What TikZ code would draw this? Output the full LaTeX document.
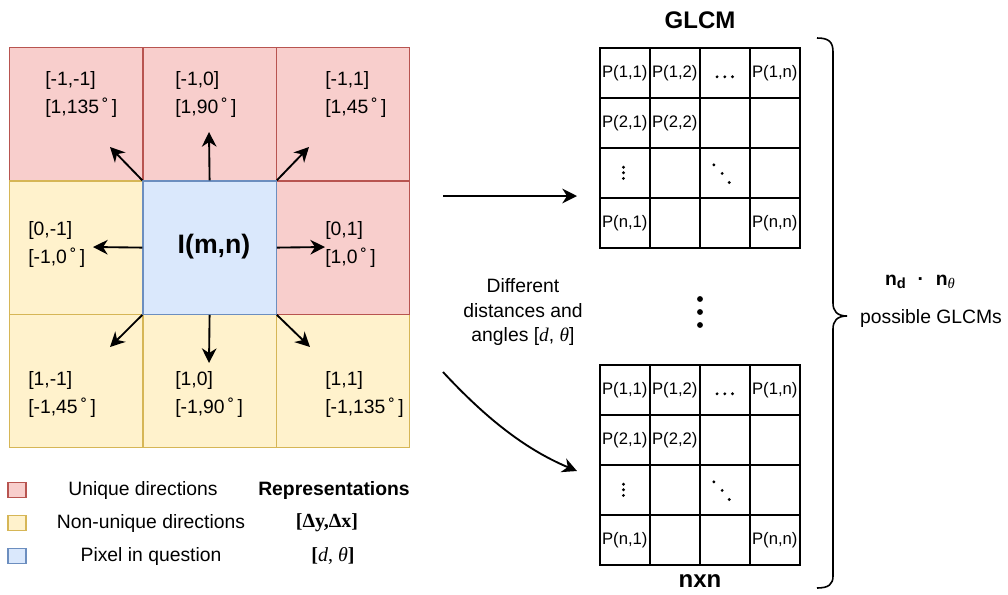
\documentclass[tikz,border=0pt]{standalone}
\usepackage{fontspec}
\setmainfont{Liberation Sans}
\newfontfamily\seriffont{Liberation Serif}
\usetikzlibrary{arrows.meta}
\definecolor{pinkfill}{HTML}{F8CECC}
\definecolor{pinkline}{HTML}{B85450}
\definecolor{yelfill}{HTML}{FFF2CC}
\definecolor{yelline}{HTML}{D6B656}
\definecolor{bluefill}{HTML}{DAE8FC}
\definecolor{blueline}{HTML}{6C8EBF}
\newcommand\dg{\,˚\,}
\newcommand\drawglcm[2]{%
  \foreach \i in {1,...,4}{\foreach \j in {1,...,4}{
    \node[mcell] (#1-\i\j) at ({599+50*(\j-1)},{#2+50*(\i-1)}) {};}}
  \node[mtxt] at (#1-11) {P(1,1)};
  \node[mtxt] at (#1-12) {P(1,2)};
  \node[mtxt] at (#1-14) {P(1,n)};
  \node[mtxt] at (#1-21) {P(2,1)};
  \node[mtxt] at (#1-22) {P(2,2)};
  \node[mtxt] at (#1-41) {P(n,1)};
  \node[mtxt] at (#1-44) {P(n,n)};
  \fill ([xshift=-5.8pt,yshift=-3pt]#1-13.center) circle (1.2pt);
  \fill ([yshift=-3pt]#1-13.center) circle (1.2pt);
  \fill ([xshift=5.8pt,yshift=-3pt]#1-13.center) circle (1.2pt);
  \fill ([xshift=-1pt,yshift=4.2pt]#1-31.center) circle (1.2pt);
  \fill ([xshift=-1pt,yshift=0pt]#1-31.center) circle (1.2pt);
  \fill ([xshift=-1pt,yshift=-4.2pt]#1-31.center) circle (1.2pt);
  \fill ([xshift=-8.2pt,yshift=6pt]#1-33.center) circle (1.2pt);
  \fill ([xshift=-2pt,yshift=-0.5pt]#1-33.center) circle (1.2pt);
  \fill ([xshift=3.3pt,yshift=-7.3pt]#1-33.center) circle (1.2pt);
}
\begin{document}
\begin{tikzpicture}[x=0.75pt,y=-0.75pt,
  cellbox/.style={draw, line width=0.9pt, minimum width=100pt, minimum height=100pt, inner sep=0pt, anchor=north west},
  uniq/.style={cellbox, fill=pinkfill, draw=pinkline},
  nonuniq/.style={cellbox, fill=yelfill, draw=yelline},
  pix/.style={cellbox, fill=bluefill, draw=blueline},
  celltxt/.style={anchor=west, align=left, inner sep=0pt, font=\fontsize{14.5}{21}\selectfont},
  dirarrow/.style={-{Stealth[length=11pt,width=11pt,inset=3.5pt]}, line width=1.4pt},
  mcell/.style={draw, line width=1.2pt, minimum size=37.5pt, inner sep=0pt, anchor=north west},
  mtxt/.style={inner sep=0pt, font=\fontsize{12.5}{14}\selectfont},
  legbox/.style={draw, line width=0.9pt, minimum width=13.5pt, minimum height=11pt, inner sep=0pt},
  legtxt/.style={inner sep=0pt, font=\fontsize{14.5}{17}\selectfont},
  bigtxt/.style={inner sep=0pt, font=\bfseries\fontsize{18}{21}\selectfont}
]
\useasboundingbox (0,0) rectangle (1008,594);
% grid cells
\node[uniq] (TL) at (9,47) {};
\node[uniq] (TC) at (142.33,47) {};
\node[uniq] (TR) at (275.67,47) {};
\node[nonuniq] (ML) at (9,180.33) {};
\node[nonuniq] (BL) at (9,313.67) {};
\node[nonuniq] (BC) at (142.33,313.67) {};
\node[nonuniq] (BR) at (275.67,313.67) {};
\node[uniq] (MR) at (275.67,180.33) {};
\node[pix] (C) at (142.33,180.33) {};
\node[inner sep=0pt, font=\bfseries\fontsize{20}{24}\selectfont] (Ct) at (214,247) {I(m,n)};
% cell labels
\node[celltxt] (tTL) at (45,94) {[-1,-1]\\{}[1,135\dg]};
\node[celltxt] (tTC) at (175,94) {[-1,0]\\{}[1,90\dg]};
\node[celltxt] (tTR) at (325,94) {[-1,1]\\{}[1,45\dg]};
\node[celltxt] (tML) at (28,244) {[0,-1]\\{}[-1,0\dg]};
\node[celltxt] (tMR) at (325,244) {[0,1]\\{}[1,0\dg]};
\node[celltxt] (tBL) at (28,394) {[1,-1]\\{}[-1,45\dg]};
\node[celltxt] (tBC) at (175,394) {[1,0]\\{}[-1,90\dg]};
\node[celltxt] (tBR) at (325,394) {[1,1]\\{}[-1,135\dg]};
% arrow ends
\coordinate (aU) at (209,132);
\coordinate (aUL) at (110,147);
\coordinate (aUR) at (309,147);
\coordinate (aL) at (93,247);
\coordinate (aR) at (325,247);
\coordinate (aDL) at (110,347);
\coordinate (aD) at (209,363);
\coordinate (aDR) at (310,347);
\draw[dirarrow] (C.north) -- (aU);
\draw[dirarrow] (C.north west) -- (aUL);
\draw[dirarrow] (C.north east) -- (aUR);
\draw[dirarrow] (C.west) -- (aL);
\draw[dirarrow] (C.east) -- (aR);
\draw[dirarrow] (C.south west) -- (aDL);
\draw[dirarrow] (C.south) -- (aD);
\draw[dirarrow] (C.south east) -- (aDR);
% legend
\node[legbox, fill=pinkfill, draw=pinkline] (l1) at (17,490) {};
\node[legbox, fill=yelfill, draw=yelline] (l2) at (17,523) {};
\node[legbox, fill=bluefill, draw=blueline] (l3) at (17,556) {};
\node[legtxt] (lt1) at (143,490) {Unique directions};
\node[legtxt] (lt2) at (151,523) {Non-unique directions};
\node[legtxt] (lt3) at (151,556) {Pixel in question};
\node[legtxt, font=\bfseries\fontsize{14.5}{17}\selectfont] (rt1) at (334,490) {Representations};
\node[legtxt, font=\seriffont\bfseries\fontsize{15}{17}\selectfont] (rt2) at (327,523) {[Δy,Δx]};
\node[legtxt, font=\seriffont\fontsize{15}{17}\selectfont] (rt3) at (333,556) {\textbf{[}\textit{d}, \textit{θ}\textbf{]}};
% matrices
\drawglcm{A}{47}
\drawglcm{B}{364}
\node[bigtxt] (glcm) at (700,20) {GLCM};
\node[bigtxt] (nxn) at (700,581) {nxn};
% dots between
\fill (700,299) circle (2.2pt);
\fill (700,312) circle (2.2pt);
\fill (700,325) circle (2.2pt);
% arrows to matrices
\coordinate (s1) at (443,196);
\coordinate (s2) at (443,372);
\coordinate (e1) at (577,196);
\draw[dirarrow] (s1) -- (e1);
\coordinate (e2) at (577,471);
\draw[dirarrow] (s2) .. controls (482,414) and (522,448) .. (e2);
\node[legtxt, align=center, font=\fontsize{14.5}{18.4}\selectfont] (diff) at (523,312) {Different\\distances and\\angles [{\seriffont\textit{d}}, {\seriffont\textit{θ}}]};
% brace
\draw[line width=1.2pt] (817,38) .. controls (829,38) and (833,42) .. (833,52) -- (833,303) .. controls (833,311) and (837,316) .. (847,316)
  .. controls (837,316) and (833,321) .. (833,329) -- (833,576) .. controls (833,584) and (829,588) .. (817,588);
\node[legtxt, font=\bfseries\fontsize{14.5}{17}\selectfont] (nd) at (920,282) {n\raisebox{-0.35ex}{\fontsize{11}{12}\selectfont d}\,\, · \,\,n\raisebox{-0.35ex}{\fontsize{11}{12}\selectfont\seriffont\itshape\mdseries θ}};
\node[legtxt] (pg) at (931,318) {possible GLCMs};
\end{tikzpicture}
\end{document}
